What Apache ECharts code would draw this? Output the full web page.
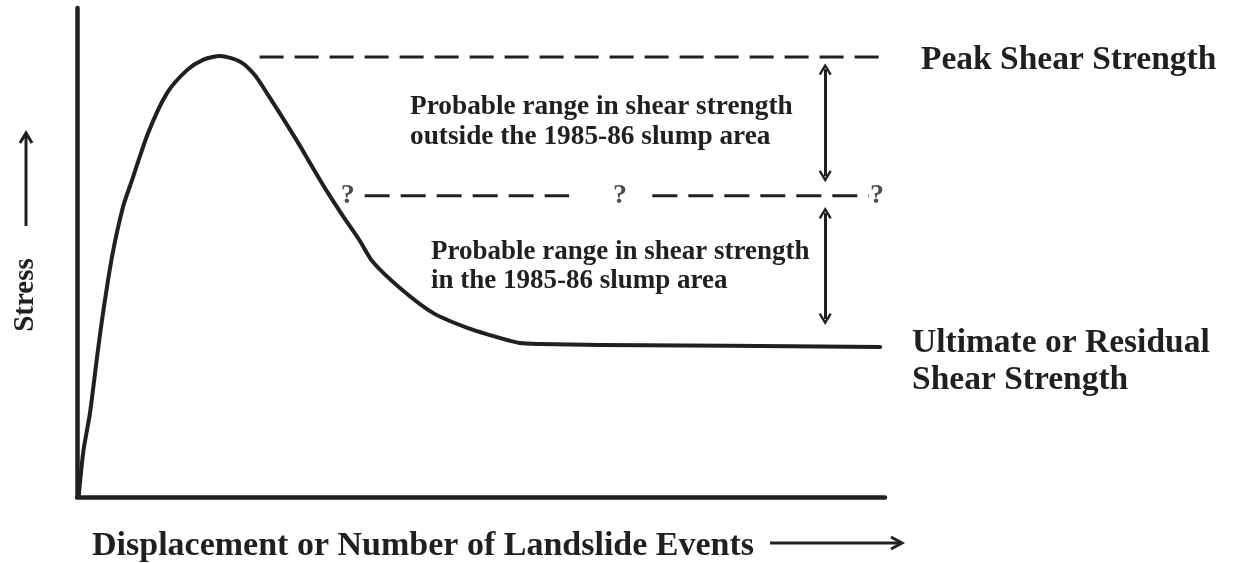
<!DOCTYPE html>
<html>
<head>
<meta charset="utf-8">
<script src="https://cdn.jsdelivr.net/npm/echarts@6/dist/echarts.min.js"></script>
<style>
  html, body { margin: 0; padding: 0; background: #fff; }
  #show { width: 1235px; height: 563px; }
</style>
</head>
<body>
<div id="show"></div>
<script>
// stress - displacement curve (arbitrary units 0..100)
var curveX = [0.2, 0.8, 1.61, 2.48, 3.22, 4.33, 5.69, 6.81, 8.79, 11.14, 13.61, 15.59, 17.7, 20.2, 22.0, 23.5, 26.0, 27.6, 29.2, 30.9, 32.9, 35.0, 36.6, 40.0, 44.1, 48.3, 52.4, 54.8, 57.3, 64.7, 99.4];
var curveY = [0, 9.5, 17.2, 28.6, 37.6, 49.1, 59.3, 64.8, 74.4, 82.6, 87.3, 89.4, 90.2, 89.0, 86.3, 82.6, 76.1, 71.8, 67.3, 62.6, 57.5, 52.4, 48.1, 42.7, 37.6, 34.6, 32.5, 31.5, 31.3, 31.1, 30.7];

// dashed levels
var peakLevel = 90.0;
var peakRange = [22.6, 99.4];
var midLevel = 61.6;
var midRanges = [[35.6, 60.9], [71.2, 98.0]];
var questionX = [33.5, 67.2, 99.0];

// double arrows (x, from, to)
var arrowX = 92.6;
var upperArrow = [87.5, 65.6];
var lowerArrow = [58.1, 36.4];

var font = '"Liberation Serif", "Times New Roman", serif';
var ink = '#231f20';

var myChart = echarts.init(document.getElementById('show'));

var curveData = [];
for (var i = 0; i < curveX.length; i++) {
    curveData.push([curveX[i], curveY[i]]);
}

var chevron = 'path://M0,9 L5,0 L10,9 L8.4,10 L5,3.8 L1.6,10 Z';

function label(x, y, text, size) {
    return { type: 'text', x: x, y: y,
        style: { text: text, font: 'bold ' + size + 'px ' + font, fill: ink, align: 'left', verticalAlign: 'middle' } };
}

var option = {
    backgroundColor: '#fff',
    animation: false,
    grid: { left: 77, right: 350, top: 8, bottom: 66 },
    xAxis: {
        type: 'value', min: 0, max: 100,
        axisLine: { show: true, lineStyle: { color: ink, width: 4.5 } },
        axisTick: { show: false }, axisLabel: { show: false }, splitLine: { show: false }
    },
    yAxis: {
        type: 'value', min: 0, max: 100,
        axisLine: { show: true, lineStyle: { color: ink, width: 4.5 } },
        axisTick: { show: false }, axisLabel: { show: false }, splitLine: { show: false }
    },
    series: [
        {
            name: 'curve',
            type: 'line',
            data: curveData,
            smooth: 0.25,
            showSymbol: false,
            lineStyle: { color: ink, width: 4, join: 'round', cap: 'round' },
            markLine: {
                silent: true,
                symbol: [chevron, chevron],
                symbolSize: [13, 12],
                label: { show: false },
                lineStyle: { color: ink, width: 3, type: 'solid' },
                data: [
                    [{ coord: [arrowX, upperArrow[0]] }, { coord: [arrowX, upperArrow[1]] }],
                    [{ coord: [arrowX, lowerArrow[0]] }, { coord: [arrowX, lowerArrow[1]] }]
                ]
            }
        },
        {
            name: 'peak',
            type: 'line',
            data: [[peakRange[0], peakLevel], [peakRange[1], peakLevel]],
            showSymbol: false,
            lineStyle: { color: ink, width: 3, type: [24, 11] }
        },
        {
            name: 'mid1',
            type: 'line',
            data: [[midRanges[0][0], midLevel], [midRanges[0][1], midLevel]],
            showSymbol: false,
            lineStyle: { color: ink, width: 3, type: [25, 11] }
        },
        {
            name: 'mid2',
            type: 'line',
            data: [[midRanges[1][0], midLevel], [midRanges[1][1], midLevel]],
            showSymbol: false,
            lineStyle: { color: ink, width: 3, type: [25, 11] }
        },
        {
            name: 'question',
            type: 'scatter',
            symbolSize: 1,
            itemStyle: { color: 'rgba(0,0,0,0)' },
            data: questionX.map(function (x) { return [x, midLevel]; }),
            label: {
                show: true, position: 'inside', formatter: '?',
                color: ink, fontFamily: font, fontWeight: 'bold', fontSize: 28
            }
        }
    ],
    graphic: [
        // y axis name
        { type: 'text', x: 26, y: 295, rotation: Math.PI / 2,
          style: { text: 'Stress', font: 'bold 29px ' + font, fill: ink, align: 'center', verticalAlign: 'middle' } },
        { type: 'line', shape: { x1: 26, y1: 226, x2: 26, y2: 134 }, style: { stroke: ink, lineWidth: 3 } },
        { type: 'polyline', shape: { points: [[20, 143], [26, 133], [32, 143]] }, style: { stroke: ink, lineWidth: 3, fill: null } },
        // x axis name
        label(92, 546, 'Displacement or Number of Landslide Events', 34),
        { type: 'line', shape: { x1: 770, y1: 543, x2: 901, y2: 543 }, style: { stroke: ink, lineWidth: 3 } },
        { type: 'polyline', shape: { points: [[891, 537], [902, 543], [891, 549]] }, style: { stroke: ink, lineWidth: 3, fill: null } },
        // right-hand labels
        label(921, 60, 'Peak Shear Strength', 33.5),
        label(912, 343, 'Ultimate or Residual', 33.5),
        label(912, 380, 'Shear Strength', 33.5),
        // annotations
        label(410, 107, 'Probable range in shear strength', 27.3),
        label(410, 137, 'outside the 1985-86 slump area', 27.3),
        label(431, 252, 'Probable range in shear strength', 27),
        label(431, 281, 'in the 1985-86 slump area', 27)
    ]
};

myChart.setOption(option);
</script>
</body>
</html>
